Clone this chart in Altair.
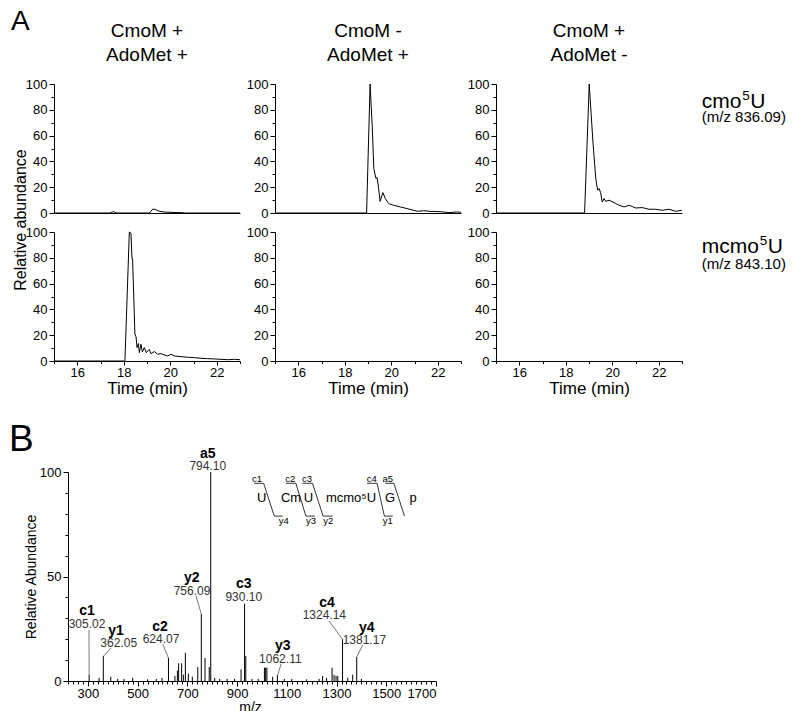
import altair as alt
import pandas as pd

FONT = "Liberation Sans"

# ---------------- Panel A data ----------------
col_titles = [["CmoM +", "AdoMet +"], ["CmoM -", "AdoMet +"], ["CmoM +", "AdoMet -"]]
row_base = ["cmo", "mcmo"]
row_sup = ["5", "5"]
row_end = ["U", "U"]
row_mz = ["(m/z 836.09)", "(m/z 843.10)"]

# cmo5U trace, CmoM+ AdoMet+
cmo_t_1 = [15, 17.4, 17.55, 17.7, 19.1, 19.25, 19.35, 19.5, 19.7, 20.0, 20.5, 20.6, 23]
cmo_v_1 = [0, 0, 1, 0, 0, 3, 2.8, 1.5, 0.8, 0.5, 0.3, 0, 0]
# cmo5U trace, CmoM- AdoMet+
cmo_t_2 = [15, 18.94, 19.09, 19.18, 19.25, 19.34, 19.39, 19.45, 19.52, 19.64, 19.75, 19.89,
           20.1, 20.39, 20.68, 20.96, 21.14, 21.39, 21.67, 22.1, 22.53, 22.8, 23.0]
cmo_v_2 = [0, 0, 100, 68, 34.5, 26.8, 27.5, 20, 9, 15.8, 11, 7.3,
           6, 4.7, 3.4, 2.1, 1.3, 1.8, 1.3, 1.0, 0.3, 0.8, 0.5]
# cmo5U trace, CmoM+ AdoMet-
cmo_t_3 = [15, 18.81, 19.01, 19.17, 19.29, 19.37, 19.43, 19.50, 19.57, 19.65, 19.72, 19.86,
           20.08, 20.29, 20.51, 20.72, 21.01, 21.29, 21.58, 21.87, 22.15, 22.44, 22.73, 22.99]
cmo_v_3 = [0, 0, 100, 55, 27, 17.7, 19, 15.8, 8.6, 11.2, 9, 9.9,
           8, 6, 4.7, 6, 3.9, 4.2, 2.9, 2.9, 2.1, 2.9, 1.3, 2.1]
# mcmo5U trace, CmoM+ AdoMet+
mcmo_t_1 = [15, 18.05, 18.24, 18.31, 18.355, 18.38, 18.48, 18.53, 18.57, 18.63, 18.67, 18.74,
            18.80, 18.885, 18.97, 19.10, 19.17, 19.315, 19.46, 19.60, 19.745, 19.89, 20.03,
            20.18, 20.46, 20.75, 21.04, 21.32, 21.61, 21.90, 22.18, 22.47, 22.76, 23.0]
mcmo_v_1 = [0, 0, 100, 99.2, 79.2, 79.2, 20.8, 18.7, 10.4, 13.5, 6.5, 13,
            7, 10.4, 6.5, 9, 5.7, 7.3, 5.2, 5.7, 4.7, 3.9, 5.2,
            3.9, 3.4, 2.9, 2.6, 2.1, 1.8, 1.6, 1.3, 1.0, 1.3, 1.0]
# mcmo5U in the two controls: no signal
mcmo_t_2, mcmo_v_2 = [], []
mcmo_t_3, mcmo_v_3 = [], []

traces = [[(cmo_t_1, cmo_v_1), (cmo_t_2, cmo_v_2), (cmo_t_3, cmo_v_3)],
          [(mcmo_t_1, mcmo_v_1), (mcmo_t_2, mcmo_v_2), (mcmo_t_3, mcmo_v_3)]]

time_ticks = [15 + 0.5 * i for i in range(17)]
abund_ticks = list(range(0, 101, 10))

# ---------------- Panel B data ----------------
peak_mz = [305.02, 345, 362.05, 392, 420, 445, 480, 540, 575, 598, 624.07, 650, 660, 665, 677,
           684, 692, 704, 720, 742, 756.09, 771, 788, 794.10, 810, 830, 860, 890, 916, 930.10,
           935, 960, 985, 1010, 1015, 1020, 1043, 1062.11, 1090, 1120, 1180, 1230, 1244, 1260,
           1282, 1290, 1298, 1305, 1324.14, 1345, 1365, 1381.17, 1400]
peak_int = [3, 1.5, 12, 2, 1, 1, 1.5, 0.8, 1, 1.5, 11, 2.4, 5, 8.5, 8.5,
            3, 13.5, 3.5, 2, 6.7, 32, 11, 6.7, 100, 1.5, 1, 1, 1, 5.6, 37,
            12, 1, 1, 6.4, 6.4, 6.4, 2, 3, 1, 1, 0.8, 1, 2.4, 1.5,
            6.4, 3, 2.5, 2.4, 20, 1.5, 3, 11.5, 1]

ion_names = ["c1", "y1", "c2", "y2", "a5", "c3", "y3", "c4", "y4"]
ion_values = ["305.02", "362.05", "624.07", "756.09", "794.10", "930.10", "1062.11", "1324.14", "1381.17"]
# annotation layout (data coordinates)
name_x = [296.4, 413.1, 590, 717.6, 782, 926.8, 1083.6, 1261.8, 1421.5]
name_y = [33.5, 23.9, 25.8, 49.3, 108.7, 46.4, 16.7, 37.3, 25.4]
num_x = [296.4, 423.9, 594.1, 718.8, 782, 926.8, 1074, 1251, 1411.9]
num_y = [27.3, 18.2, 20.1, 43.1, 102.8, 40.2, 10.5, 31.6, 19.6]
lead_x1 = [304.5, 393, 601, 734.9, 1076.8, 1269.9, 1405.4]
lead_y1 = [24.4, 15.8, 17.7, 40.7, 8.1, 28.7, 17.2]
lead_x2 = [305.02, 364, 624.07, 756.09, 1063.5, 1324.14, 1381.17]
lead_y2 = [3, 12, 11, 32, 3, 20, 11.5]

seq_units = ["U", "Cm", "U", "mcmo⁵U", "G", "p"]
seq_x = [999, 1116.8, 1187.2, 1358.1, 1515, 1607.5]
seq_top = ["c1", "c2", "c3", "c4", "a5"]
seq_top_x = [980.3, 1114.2, 1181.4, 1441.6, 1506]
seq_bot = ["y4", "y3", "y2", "y1"]
seq_bot_x = [1087.7, 1197.5, 1267, 1506]
cut_id = [1, 1, 1, 1, 2, 2, 2, 2, 3, 3, 3, 3, 4, 4, 4, 4, 5, 5, 5]
cut_x = [969.1, 1006.9, 1049.5, 1083.3, 1096.2, 1136.4, 1176.7, 1212.9,
         1163, 1203.3, 1245.9, 1283.7, 1422.8, 1463, 1492.4, 1526.2,
         1495.6, 1530.6, 1573.3]
cut_y = [94.6, 94.6, 78.9, 78.9] * 4 + [94.6, 94.6, 78.9]
mz_ticks = list(range(220, 1701, 20))

# ---------------- Panel A ----------------
W, H = 186, 129


def txt(df, X, Y, **kw):
    return alt.Chart(df).mark_text(color="black", **kw).encode(x=X, y=Y, text="label:N")


def a_cell(r, c):
    t, v = traces[r][c]
    df = pd.DataFrame({"t": pd.Series(t, dtype=float), "v": pd.Series(v, dtype=float)})
    if r == 0:
        xaxis = alt.Axis(labels=False, ticks=False, title=None, grid=False)
    else:
        xaxis = alt.Axis(values=time_ticks, format="d",
                         labelExpr="datum.value % 2 === 0 ? datum.label : ''",
                         tickSize={"condition": {"test": "datum.value % 2 === 0", "value": 4}, "value": 2.5},
                         title="Time (min)", titleFontSize=17, labelFontSize=13,
                         titlePadding=1, labelPadding=1, grid=False)
    yaxis = alt.Axis(values=abund_ticks,
                     labelExpr="datum.value % 20 === 0 ? datum.label : ''",
                     tickSize={"condition": {"test": "datum.value % 20 === 0", "value": 5}, "value": 3},
                     title=None, labelFontSize=13, labelPadding=2, grid=False)
    X = alt.X("t:Q", scale=alt.Scale(domain=[15, 23], nice=False, zero=False), axis=xaxis)
    Y = alt.Y("v:Q", scale=alt.Scale(domain=[0, 100], nice=False), axis=yaxis)
    layers = [alt.Chart(df).mark_line(color="black", strokeWidth=1).encode(x=X, y=Y)]
    if r == 0:
        d = pd.DataFrame({"t": [19.0], "v": [136.4], "label": ["\n".join(col_titles[c])]})
        layers.append(txt(d, X, Y, fontSize=19, lineHeight=24, lineBreak="\n",
                          align="center", baseline="alphabetic"))
    if r == 0 and c == 0:
        d = pd.DataFrame({"t": [13.15], "v": [141.8], "label": ["A"]})
        layers.append(txt(d, X, Y, fontSize=28, align="left", baseline="alphabetic"))
    if r == 1 and c == 0:
        d = pd.DataFrame({"t": [13.80], "v": [109.3], "label": ["Relative abundance"]})
        layers.append(txt(d, X, Y, fontSize=16, angle=270, align="center", baseline="alphabetic"))
    if c == 2:
        vb = 81.6 if r == 0 else 83.5
        vm = 70.5 if r == 0 else 71.3
        w_base = 40.5 if r == 0 else 58
        d1 = pd.DataFrame({"t": [23.85], "v": [vb], "label": [row_base[r]]})
        d2 = pd.DataFrame({"t": [23.85], "v": [vb], "label": [row_sup[r]]})
        d3 = pd.DataFrame({"t": [23.85], "v": [vb], "label": [row_end[r]]})
        d4 = pd.DataFrame({"t": [23.85], "v": [vm], "label": [row_mz[r]]})
        layers.append(txt(d1, X, Y, fontSize=21, align="left", baseline="alphabetic"))
        layers.append(txt(d2, X, Y, fontSize=13.5, align="left", baseline="alphabetic", dx=w_base, dy=-8))
        layers.append(txt(d3, X, Y, fontSize=21, align="left", baseline="alphabetic", dx=w_base + 8))
        layers.append(txt(d4, X, Y, fontSize=15, align="left", baseline="alphabetic"))
    return alt.layer(*layers).properties(width=W, height=H)


cells = [a_cell(r, c) for r in range(2) for c in range(3)]
gridA = alt.concat(*cells, columns=3, spacing={"row": 19, "column": 35}, bounds="flush")

# ---------------- Panel B ----------------
BW, BH = 382, 209
Xb = alt.X("mz:Q", scale=alt.Scale(domain=[220, 1700], range=[14, 382], nice=False, zero=False),
           axis=alt.Axis(values=mz_ticks, format="d",
                         labelExpr="(datum.value - 300) % 200 === 0 ? datum.label : ''",
                         tickSize={"condition": {"test": "(datum.value - 300) % 200 === 0", "value": 5},
                                   "value": 3},
                         title="m/z", titleFontSize=14, labelFontSize=13, titlePadding=0,
                         labelPadding=1, grid=False, titleX=196))
Yb = alt.Y("I:Q", scale=alt.Scale(domain=[0, 100], nice=False),
           axis=alt.Axis(values=abund_ticks, offset=-14,
                         labelExpr="datum.value % 50 === 0 ? datum.label : ''",
                         tickSize={"condition": {"test": "datum.value % 50 === 0", "value": 5}, "value": 3},
                         title="Relative Abundance", titleFontSize=14, labelFontSize=13,
                         titlePadding=1, labelPadding=2, grid=False))

peaks_df = pd.DataFrame({"mz": peak_mz, "I": peak_int})
peaks = alt.Chart(peaks_df).mark_rule(color="black", strokeWidth=1).encode(x=Xb, y=Yb, y2=alt.datum(0))

names_df = pd.DataFrame({"mz": name_x, "I": name_y, "label": ion_names})
names = txt(names_df, Xb, Yb, fontSize=14, fontWeight="bold", baseline="middle")
nums_df = pd.DataFrame({"mz": num_x, "I": num_y, "label": ion_values})
nums = alt.Chart(nums_df).mark_text(fontSize=12, color="#333333", baseline="middle").encode(
    x=Xb, y=Yb, text="label:N")
lead_df = pd.DataFrame({"mz": lead_x1, "I": lead_y1, "mz2": lead_x2, "I2": lead_y2})
leads = alt.Chart(lead_df).mark_rule(color="#555555", strokeWidth=0.8).encode(
    x=Xb, y=Yb, x2="mz2:Q", y2="I2:Q")

seq_df = pd.DataFrame({"mz": seq_x, "I": [87.6] * len(seq_x), "label": seq_units})
seq = txt(seq_df, Xb, Yb, fontSize=13, baseline="middle")
seqt_df = pd.DataFrame({"mz": seq_top_x + seq_bot_x,
                        "I": [96.8] * len(seq_top_x) + [76.6] * len(seq_bot_x),
                        "label": seq_top + seq_bot})
seqt = txt(seqt_df, Xb, Yb, fontSize=9.5, baseline="middle")
cut_df = pd.DataFrame({"mz": cut_x, "I": cut_y, "id": cut_id, "k": list(range(len(cut_x)))})
cuts = alt.Chart(cut_df).mark_line(color="black", strokeWidth=0.8).encode(
    x=Xb, y=Yb, detail="id:N", order="k:Q")

bl_df = pd.DataFrame({"mz": [-17.3], "I": [110], "label": ["B"]})
bletter = txt(bl_df, Xb, Yb, fontSize=37, align="left", baseline="alphabetic")

chartB = alt.layer(peaks, leads, names, nums, cuts, seq, seqt, bletter).properties(width=BW, height=BH)

chart = alt.concat(gridA, chartB, columns=1, spacing=25,
                   padding={"left": 0, "top": 0, "right": 2, "bottom": 0}).configure(
    font=FONT
).configure_view(strokeWidth=0).configure_axis(
    domainColor="black", tickColor="black", labelColor="black", titleColor="black",
    titleFontWeight="normal", labelFont=FONT, titleFont=FONT, domainWidth=1, tickWidth=1
)

chart.save("out.html", embed_options={"renderer": "svg", "actions": False})
